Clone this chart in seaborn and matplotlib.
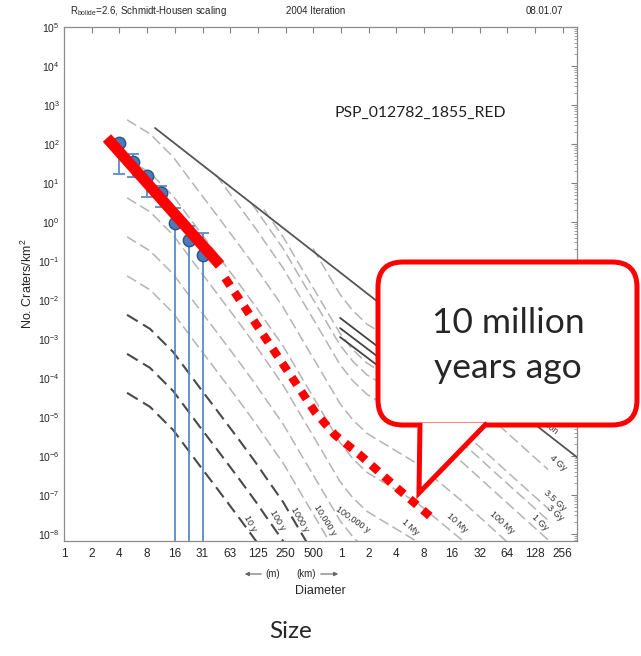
import matplotlib
matplotlib.use('Agg')
import matplotlib.pyplot as plt
import matplotlib.patches as mpatches
from matplotlib.transforms import IdentityTransform
from matplotlib.ticker import FixedLocator, LogLocator, NullFormatter, NullLocator
import numpy as np
import pandas as pd
import seaborn as sns

# HiRISE crater counts: bin diameter (m), craters/km^2 and error bar ends
bin_d = [4.0, 5.66, 8.0, 11.3, 16.0, 22.6, 32.0]
density = [106, 34.5, 15.1, 5.5, 0.94, 0.345, 0.143]
err_hi = [106, 55.5, 15.1, 8.4, 2.29, 0.79, 0.52]
err_lo = [16.7, 14.3, 4.38, 2.4, 1e-12, 1e-12, 1e-12]

# production isochron for 1 year (log10 N), read along diameter (m)
base_d = [4.84, 8.6, 15.3, 30.1, 44.9, 81.8, 110.4, 122, 149, 240, 426, 508,
          759, 1000, 1383, 1960, 6690, 21680, 63600, 182000]
base_logn = [-5.38, -5.74, -6.33, -7.26, -7.80, -8.62, -9.04, -9.18, -9.48, -10.18,
             -11.18, -11.48, -12.18, -12.66, -13.08, -13.42, -14.18, -15.18, -16.18, -17.15]

# isochrons: label, log10 shift from the 1 year curve, first base point drawn
iso_labels = ['10 y', '100 y', '1000 y', '10,000 y', '100,000 y', '1 My', '10 My',
              '100 My', '1 Gy', '3 Gy', '3.5 Gy', '4 Gy']
iso_shift = [1, 2, 3, 4, 5, 6, 7, 8, 9, 9.5, 9.8, 10.8]
iso_start = [0, 0, 0, 0, 0, 0, 0, 0, 4, 6, 8, 11]
iso_label_d = [105, 206, 367, 686, 1383, 5757, 18660, 57500, 149000, 217000, 217000, 233600]
iso_label_n = [1.9e-8, 2.3e-8, 2.3e-8, 2.3e-8, 2.3e-8, 1.5e-8, 1.9e-8, 2.0e-8, 2.0e-8, 3.5e-8, 7.1e-8, 6.6e-7]
iso_label_rot = [-62, -60, -60, -58, -35, -42, -42, -42, -45, -42, -42, -42]

# saturation line and the solid epoch segments beyond 1 km
sat_d = [9.75, 375000]
sat_n = [257, 9.3e-7]
epoch_d = [1000, 8190]
epoch_n = [[3.47e-3, 7.9e-5], [1.9e-3, 4.4e-5], [1.12e-3, 2.6e-5]]

# red overlay: fitted line and projected continuation
fit_d = [2.93, 49.6]
fit_n = [142.6, 0.0789]
proj_d = [56.2, 340.6, 534, 881, 1648, 4158, 9980]
proj_n = [0.0366, 6.62e-5, 1.34e-5, 3.45e-6, 1.06e-6, 1.51e-7, 2.57e-8]

xtick_vals = [2.0 ** k for k in range(19)]
xtick_labels = ['1', '2', '4', '8', '16', '31', '63', '125', '250', '500',
                '1', '2', '4', '8', '16', '32', '64', '128', '256']

sns.set_theme(style='white')
plt.rcParams['font.family'] = ['Liberation Sans', 'DejaVu Sans']
plt.rcParams['mathtext.fontset'] = 'custom'
plt.rcParams['mathtext.rm'] = 'Liberation Sans'
plt.rcParams['mathtext.it'] = 'Liberation Sans:italic'

W, H = 641, 656
fig = plt.figure(figsize=(W / 100, H / 100), dpi=100)
ax = fig.add_axes([64 / W, 1 - 541 / H, 513 / W, 514 / H])
ax.set_xscale('log', base=2)
ax.set_yscale('log')

base_logn = np.array(base_logn)
base_d = np.array(base_d)
for i, lab in enumerate(iso_labels):
    s = iso_start[i]
    dark = i < 3
    sns.lineplot(x=base_d[s:], y=10 ** (iso_shift[i] + base_logn[s:]), ax=ax,
                 color='#4a4a4a' if dark else '#b4b4b4', lw=1.5 if dark else 1.1,
                 linestyle=(0, (6, 3)) if dark else (0, (7, 3)),
                 errorbar=None, sort=False, zorder=1)
    ax.text(iso_label_d[i], iso_label_n[i], lab, rotation=iso_label_rot[i],
            fontsize=6.5, color='#333333', ha='center', va='center',
            rotation_mode='anchor', zorder=2)

sns.lineplot(x=sat_d, y=sat_n, ax=ax, color='#555555', lw=1.3, errorbar=None, zorder=2)
ax.text(2.1e5, 3.2e-6, 'Saturation', rotation=-37, fontsize=6.5, color='#333333',
        ha='right', va='bottom', rotation_mode='anchor')
for en in epoch_n:
    sns.lineplot(x=epoch_d, y=en, ax=ax, color='#444444', lw=1.3, errorbar=None, zorder=2)

df = pd.DataFrame({'D': bin_d, 'N': density, 'hi': err_hi, 'lo': err_lo})
ax.errorbar(df['D'], df['N'], yerr=[df['N'] - df['lo'], df['hi'] - df['N']], fmt='none',
            ecolor='#5b8bc9', elinewidth=1.3, capsize=4, capthick=1.3, zorder=3)
sns.scatterplot(data=df, x='D', y='N', ax=ax, s=80, color='#4a7ab8',
                edgecolor='#2c5587', linewidth=1.0, zorder=4)

ax.plot(fit_d, fit_n, color='#ff0000', lw=8, solid_capstyle='butt', zorder=5)
ax.plot(proj_d, proj_n, color='#ff0000', lw=6, linestyle=(0, (1.1, 0.95)),
        dash_capstyle='butt', zorder=5)

ax.set_xlim(1, 375000)
ax.set_ylim(10 ** -8.18, 1e5)
ax.xaxis.set_major_locator(FixedLocator(xtick_vals))
ax.set_xticklabels(xtick_labels)
ax.xaxis.set_minor_locator(NullLocator())
ax.yaxis.set_major_locator(LogLocator(base=10, numticks=20))
ax.yaxis.set_minor_locator(LogLocator(base=10, subs=np.arange(2, 10), numticks=20))
ax.yaxis.set_minor_formatter(NullFormatter())
ax.tick_params(which='major', direction='in', length=4, width=0.8, color='#808080',
               top=True, right=True, labelsize=8.5, pad=5)
ax.tick_params(axis='y', which='major', labelsize=7.5, pad=3)
ax.tick_params(which='minor', direction='in', length=2, width=0.6, color='#909090',
               top=True, right=True)
for sp in ax.spines.values():
    sp.set_color('#8c8c8c')
    sp.set_linewidth(0.9)
ax.set_xlabel('')
ax.set_ylabel('No. Craters/km$^2$', fontsize=9, labelpad=2)

fig.text(70 / W, 1 - 11 / H, r'R$_{\rm bolide}$=2.6, Schmidt-Housen scaling', fontsize=7, va='center')
fig.text(316 / W, 1 - 11 / H, '2004 Iteration', fontsize=7, va='center', ha='center')
fig.text(544 / W, 1 - 11 / H, '08.01.07', fontsize=7, va='center', ha='center')
fig.text(273 / W, 1 - 574 / H, '(m)', fontsize=7, va='center', ha='center')
fig.text(306 / W, 1 - 574 / H, '(km)', fontsize=7, va='center', ha='center')
fig.add_artist(mpatches.FancyArrowPatch((264 / W, 1 - 574 / H), (242 / W, 1 - 574 / H),
                                        transform=fig.transFigure, arrowstyle='-|>',
                                        mutation_scale=6, color='#666666', lw=0.8))
fig.add_artist(mpatches.FancyArrowPatch((318 / W, 1 - 574 / H), (341 / W, 1 - 574 / H),
                                        transform=fig.transFigure, arrowstyle='-|>',
                                        mutation_scale=6, color='#666666', lw=0.8))
fig.text(320 / W, 1 - 591 / H, 'Diameter', fontsize=9, va='center', ha='center')
fig.text(291 / W, 1 - 632 / H, 'Size', fontsize=17.5, va='center', ha='center',
         family=['Lato', 'DejaVu Sans'])
fig.text(334 / W, 1 - 113 / H, 'PSP_012782_1855_RED', fontsize=11.3, va='center',
         family=['Lato', 'DejaVu Sans'], color='#222222')

# callout bubble in pixel coordinates
box = mpatches.FancyBboxPatch((378, H - 425), 259, 163, boxstyle='round,pad=0,rounding_size=25',
                              transform=IdentityTransform(), ec='#ff0000', fc='white', lw=3.6)
fig.add_artist(box)
tail = mpatches.Polygon([(420, H - 423), (419, H - 493), (487, H - 423)], closed=False,
                        transform=IdentityTransform(), ec='#ff0000', fc='white', lw=3.6,
                        joinstyle='miter')
fig.add_artist(tail)
fig.text(508 / W, 1 - 323 / H, '10 million', fontsize=25.5, va='center', ha='center',
         family=['Lato', 'DejaVu Sans'])
fig.text(508 / W, 1 - 368 / H, 'years ago', fontsize=25.5, va='center', ha='center',
         family=['Lato', 'DejaVu Sans'])

fig.savefig('out.png', dpi=100)
